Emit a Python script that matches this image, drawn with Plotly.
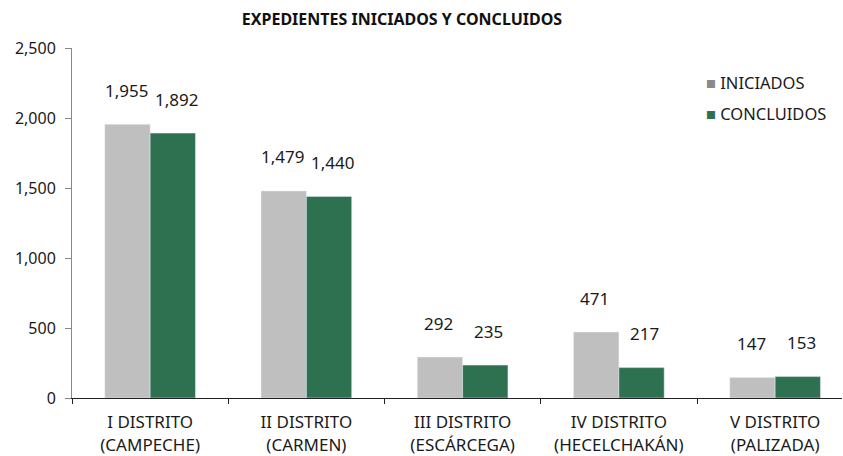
import plotly.graph_objects as go

categories = ["I DISTRITO<br>(CAMPECHE)", "II DISTRITO<br>(CARMEN)", "III DISTRITO<br>(ESCÁRCEGA)",
              "IV DISTRITO<br>(HECELCHAKÁN)", "V DISTRITO<br>(PALIZADA)"]
iniciados = [1955, 1479, 292, 471, 147]
concluidos = [1892, 1440, 235, 217, 153]
y_ticks = [0, 500, 1000, 1500, 2000, 2500]
series_names = ["INICIADOS", "CONCLUIDOS"]

FONT = "Noto Sans"
GRAY = "#BFBFBF"
GREEN = "#2D7150"
LEGEND_COLORS = ["#8A8A8A", GREEN]

fig = go.Figure()
fig.add_trace(go.Bar(x=categories, y=iniciados, name=series_names[0], marker=dict(color=GRAY)))
fig.add_trace(go.Bar(x=categories, y=concluidos, name=series_names[1], marker=dict(color=GREEN)))

for i, c in enumerate(categories):
    fig.add_annotation(x=c, y=iniciados[i], text=f"{iniciados[i]:,}", showarrow=False,
                       xshift=-24, yshift=34, font=dict(family=FONT, size=17, color="#1a1a1a"))
    fig.add_annotation(x=c, y=concluidos[i], text=f"{concluidos[i]:,}", showarrow=False,
                       xshift=26, yshift=34, font=dict(family=FONT, size=17, color="#1a1a1a"))

# legend drawn as text entries
for k, (nm, col) in enumerate(zip(series_names, LEGEND_COLORS)):
    fig.add_annotation(xref="paper", yref="paper", x=(704 - 72) / 770, y=1 - (82 + 31 * k - 48) / 350,
                       xanchor="left", yanchor="middle", showarrow=False,
                       text=f"<span style='color:{col}'>■</span> {nm}",
                       font=dict(family=FONT, size=16.5, color="#1a1a1a"))

fig.update_layout(
    width=843, height=456,
    margin=dict(l=72, r=1, t=48, b=58),
    paper_bgcolor="white", plot_bgcolor="white",
    barmode="group", bargap=0.42, bargroupgap=0,
    showlegend=False,
    font=dict(family=FONT, size=14, color="#1a1a1a"),
    title=dict(text="<b>EXPEDIENTES INICIADOS Y CONCLUIDOS</b>", x=402/843, xanchor="center",
               y=1 - 19/456, yanchor="middle", font=dict(family=FONT, size=16, color="#111")),
    xaxis=dict(range=[-0.5, 4.428], showline=True, linecolor="#222", linewidth=1,
               ticks="outside", tickson="boundaries", ticklen=5, tickcolor="#222",
               tickfont=dict(family=FONT, size=17, color="#1a1a1a"), showgrid=False,
               ticklabelstandoff=9, automargin=False),
    yaxis=dict(range=[0, 2500], tickvals=y_ticks, tickformat=",", showline=True,
               linecolor="#888", linewidth=1, ticks="outside", ticklen=6, tickcolor="#888",
               tickfont=dict(family=FONT, size=16, color="#1a1a1a"), showgrid=False, zeroline=False,
               ticklabelstandoff=6, automargin=False),
)

fig.write_html("out.html", config={"displayModeBar": False},
               post_script="document.body.style.margin='0';")
